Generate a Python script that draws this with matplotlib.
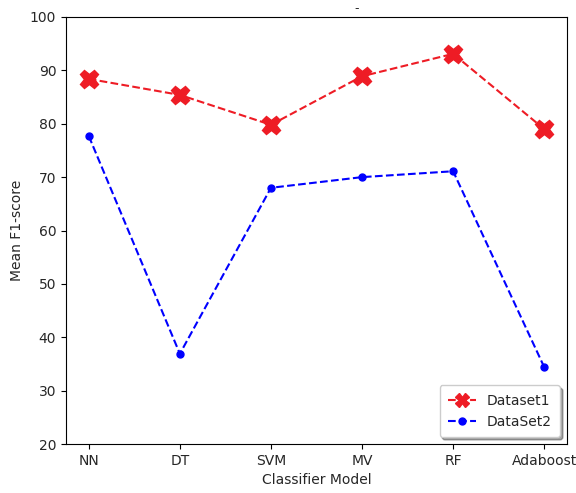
import matplotlib
matplotlib.use("Agg")
import matplotlib.pyplot as plt

models = ["NN", "DT", "SVM", "MV", "RF", "Adaboost"]
dataset1 = [88.4, 85.4, 79.8, 88.9, 93.1, 79.0]
dataset2 = [77.7, 36.9, 68.0, 70.0, 71.1, 34.4]

TEXT = "#262626"
plt.rcParams["text.color"] = TEXT
plt.rcParams["axes.labelcolor"] = TEXT
plt.rcParams["xtick.labelcolor"] = TEXT
plt.rcParams["ytick.labelcolor"] = TEXT

fig = plt.figure(figsize=(5.76, 4.93), dpi=100)
ax = fig.add_axes([66 / 576, 49 / 493, 501 / 576, 427 / 493])

x = range(len(models))
ax.plot(x, dataset1, "--", color="#ee1c25", marker="X", markersize=13, lw=1.5,
        label="Dataset1")
ax.plot(x, dataset2, "--", color="blue", marker="o", markersize=5, lw=1.5,
        label="DataSet2")

ax.set_xticks(list(x))
ax.set_xticklabels(models)
ax.set_xlim(-0.25, 5.25)
ax.set_ylim(20, 100)
ax.set_xlabel("Classifier Model")
ax.set_ylabel("Mean F1-score")
ax.tick_params(labelsize=10)
leg = ax.legend(loc="lower right", shadow=True, fontsize=10, borderpad=0.6)
leg.legend_handles[0].set_markersize(10)

fig.text(357 / 576, 1 - 9 / 493, "-", ha="center", va="center", fontsize=9)

fig.savefig("out.png", dpi=100)
